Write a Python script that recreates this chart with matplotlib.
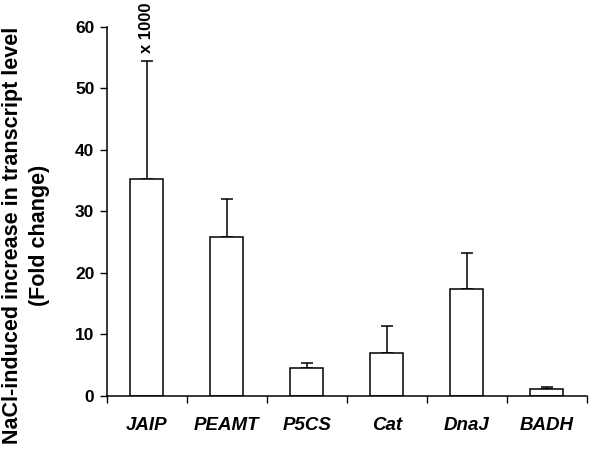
import matplotlib
matplotlib.use("Agg")
import matplotlib.pyplot as plt
import numpy as np

categories = ["JAIP", "PEAMT", "P5CS", "Cat", "DnaJ", "BADH"]
values = [35.3, 25.9, 4.5, 7.0, 17.4, 1.1]
errors = [19.2, 6.1, 0.9, 4.3, 5.9, 0.4]
yticks = [0, 10, 20, 30, 40, 50, 60]

plt.rcParams['font.family'] = ['Liberation Sans', 'DejaVu Sans']
fig = plt.figure(figsize=(6, 4.62), dpi=100)
ax = fig.add_axes([0.178, 0.143, 0.8, 0.799])

x = np.arange(len(categories))
ax.bar(x, values, width=0.41, color='white', edgecolor='black', linewidth=1.1, zorder=2)
ax.errorbar(x, values, yerr=[np.zeros(len(errors)), errors], fmt='none', ecolor='black',
            elinewidth=1.1, capsize=4.5, capthick=1.1, zorder=1)

ax.set_xlim(-0.5, len(categories) - 0.5)
ax.set_ylim(0, 60)
ax.set_yticks(yticks)
ax.set_yticklabels([str(t) for t in yticks], fontsize=12.5, fontweight='bold')
ax.set_xticks(np.arange(-0.5, len(categories)), minor=False)
ax.set_xticklabels([])
ax.set_xticks(x, minor=True)
ax.set_xticklabels(categories, minor=True, fontsize=13.5, fontweight='bold', style='italic')
ax.tick_params(axis='x', which='minor', length=0, pad=15)
ax.tick_params(axis='x', which='major', direction='out', length=5, width=1)
ax.tick_params(axis='y', direction='out', length=5, width=1, pad=4)

for s in ['top', 'right']:
    ax.spines[s].set_visible(False)
for s in ['left', 'bottom']:
    ax.spines[s].set_linewidth(1.1)

ax.set_ylabel("NaCl-induced increase in transcript level\n(Fold change)", fontsize=15.5,
              fontweight='bold', linespacing=1.35)
ax.yaxis.set_label_coords(-0.168, 0.435)
ax.yaxis.label.set_verticalalignment('center')

ax.text(0, values[0] + errors[0] + 1.2, "x 1000", rotation=90, ha='center', va='bottom',
        fontsize=12, fontweight='bold', clip_on=False)

fig.savefig("out.png", dpi=100)
